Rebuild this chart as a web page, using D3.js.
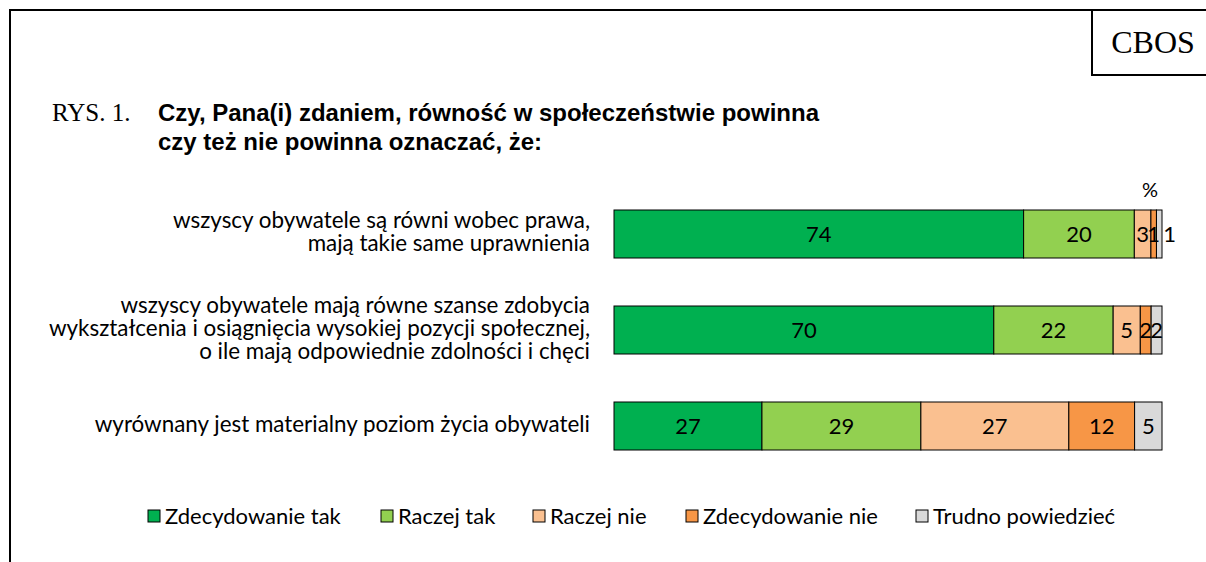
<!DOCTYPE html>
<html>
<head>
<meta charset="utf-8">
<script src="https://cdn.jsdelivr.net/npm/d3@7"></script>
<style>
  body { margin: 0; background: #fff; }
  svg { display: block; }
</style>
</head>
<body>
<script>
// chart data
const categories = [
  ["wszyscy obywatele są równi wobec prawa,", "mają takie same uprawnienia"],
  ["wszyscy obywatele mają równe szanse zdobycia", "wykształcenia i osiągnięcia wysokiej pozycji społecznej,", "o ile mają odpowiednie zdolności i chęci"],
  ["wyrównany jest materialny poziom życia obywateli"]
]
const seriesNames = ["Zdecydowanie tak", "Raczej tak", "Raczej nie", "Zdecydowanie nie", "Trudno powiedzieć"]
const seriesColors = ["#00B050", "#92D050", "#FAC090", "#F79646", "#D9D9D9"]
const values = [
  [74, 20, 3, 1, 1],
  [70, 22, 5, 2, 2],
  [27, 29, 27, 12, 5]
]

const W = 1206, H = 562
const svg = d3.select('body').append('svg')
    .attr('width', W)
    .attr('height', H)

// frame
svg.append('path')
    .attr('d', 'M10,562 V10 H1206')
    .attr('fill', 'none').attr('stroke', '#000').attr('stroke-width', 2)
svg.append('path')
    .attr('d', 'M1092,10 V75 H1206')
    .attr('fill', 'none').attr('stroke', '#000').attr('stroke-width', 2)
svg.append('text')
    .attr('x', 1153).attr('y', 53)
    .attr('text-anchor', 'middle')
    .style('font-family', 'Liberation Serif')
    .style('font-size', '32px')
    .text('CBOS')

// title
svg.append('text')
    .attr('x', 52).attr('y', 121)
    .style('font-family', 'Liberation Serif')
    .style('font-size', '25px')
    .text('RYS. 1.')
const title = svg.append('text')
    .style('font-family', 'Liberation Sans')
    .style('font-size', '24px')
    .style('font-weight', 'bold')
title.append('tspan').attr('x', 158).attr('y', 121).text('Czy, Pana(i) zdaniem, równość w społeczeństwie powinna')
title.append('tspan').attr('x', 158).attr('y', 150).text('czy też nie powinna oznaczać, że:')

// scales
const x = d3.scaleLinear().domain([0, 1]).range([614, 1162])
const y = d3.scaleBand()
    .domain(d3.range(categories.length))
    .range([186, 474])
    .paddingInner(0.5)
    .paddingOuter(0.25)

const font = 'Lato'
const fs = '22px'

svg.append('text')
    .attr('x', 1150).attr('y', 197)
    .attr('text-anchor', 'middle')
    .style('font-family', font)
    .style('font-size', '20px')
    .text('%')

values.forEach((row, i) => {
    const total = d3.sum(row)
    let cum = 0
    const segs = row.map((v, j) => {
        const s = {v, j, x0: cum / total, x1: (cum + v) / total}
        cum += v
        return s
    })
    const g = svg.append('g')
    g.selectAll('rect')
        .data(segs)
        .enter()
        .append('rect')
        .attr('x', d => x(d.x0))
        .attr('y', y(i))
        .attr('width', d => x(d.x1) - x(d.x0))
        .attr('height', y.bandwidth())
        .attr('fill', d => seriesColors[d.j])
        .attr('stroke', '#000')
        .attr('stroke-width', 1)

    // labels: centred, pushed right if they collide
    let prev = -Infinity
    segs.forEach(d => {
        let cx = (x(d.x0) + x(d.x1)) / 2
        if (cx - prev < 9) cx = prev + 16
        prev = cx
        d.lx = cx
    })
    g.selectAll('text')
        .data(segs)
        .enter()
        .append('text')
        .attr('x', d => d.lx)
        .attr('y', y(i) + y.bandwidth() / 2)
        .attr('dy', '0.35em')
        .attr('text-anchor', 'middle')
        .style('font-family', font)
        .style('font-size', fs)
        .text(d => d.v)

    // category label
    const lines = categories[i]
    const cy = y(i) + y.bandwidth() / 2 - 2
    const lh = 23
    const t = svg.append('text')
        .attr('text-anchor', 'end')
        .style('font-family', font)
        .style('font-size', '22.4px')
    lines.forEach((l, k) => {
        t.append('tspan')
            .attr('x', 590)
            .attr('y', cy + (k - (lines.length - 1) / 2) * lh)
            .attr('dy', '0.35em')
            .text(l)
    })
})

// legend
const legendX = [148, 381, 533, 686, 916]
const legend = svg.append('g')
seriesNames.forEach((n, j) => {
    legend.append('rect')
        .attr('x', legendX[j]).attr('y', 510)
        .attr('width', 12).attr('height', 12)
        .attr('fill', seriesColors[j])
        .attr('stroke', '#000').attr('stroke-width', 1)
    legend.append('text')
        .attr('x', legendX[j] + 17).attr('y', 516)
        .attr('dy', '0.35em')
        .style('font-family', font)
        .style('font-size', fs)
        .text(n)
})
</script>
</body>
</html>
